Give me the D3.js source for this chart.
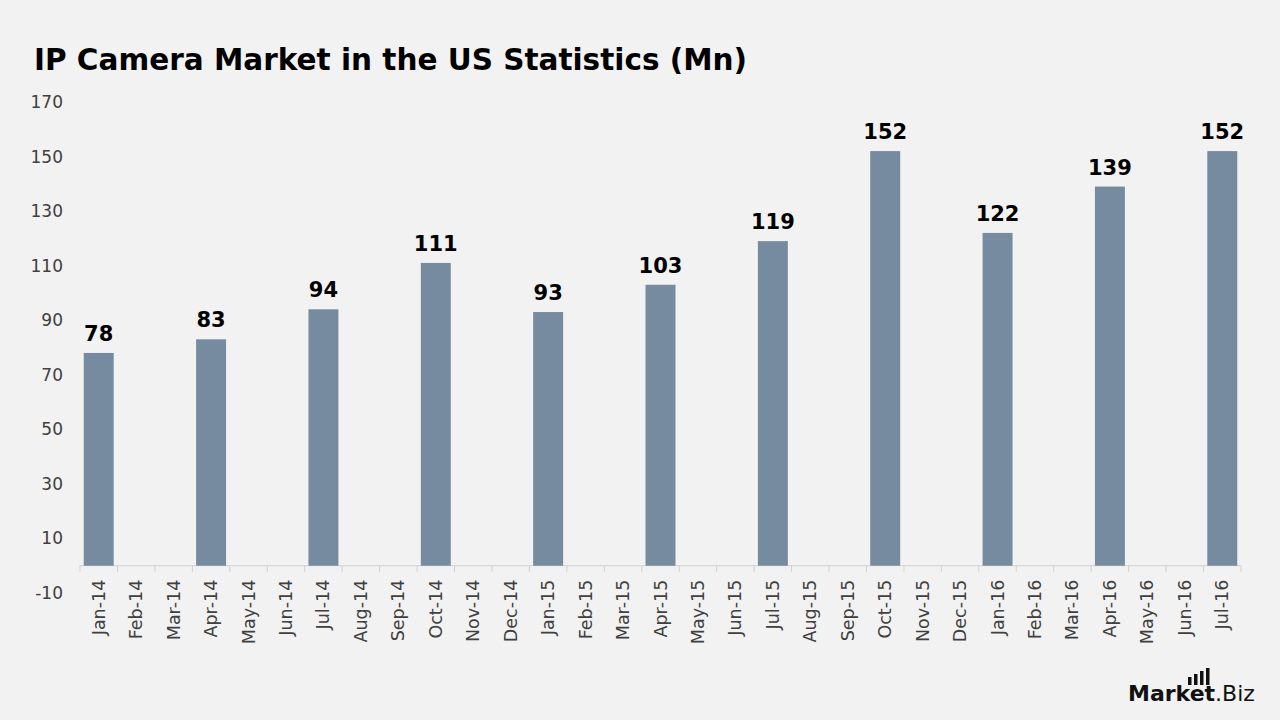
<!DOCTYPE html>
<html>
<head>
<meta charset="utf-8">
<script src="https://cdn.jsdelivr.net/npm/d3@7"></script>
<style>
  body { margin: 0; background: #f2f2f2; }
  svg { display: block; font-family: "DejaVu Sans", "Open Sans", sans-serif; }
</style>
</head>
<body>
<div id="chart"></div>
<script>
// months shown on the category axis
const months = ["Jan-14","Feb-14","Mar-14","Apr-14","May-14","Jun-14","Jul-14","Aug-14","Sep-14","Oct-14","Nov-14","Dec-14",
    "Jan-15","Feb-15","Mar-15","Apr-15","May-15","Jun-15","Jul-15","Aug-15","Sep-15","Oct-15","Nov-15","Dec-15",
    "Jan-16","Feb-16","Mar-16","Apr-16","May-16","Jun-16","Jul-16"];
// only quarterly months have a value
const values = [78,null,null,83,null,null,94,null,null,111,null,null,
    93,null,null,103,null,null,119,null,null,152,null,null,
    122,null,null,139,null,null,152];
const yTicks = [-10,10,30,50,70,90,110,130,150,170];

const data = months.map((m, i) => ({month: m, value: values[i]}));

const width = 1280, height = 720;

const svg = d3.select("#chart")
    .append("svg")
    .attr("width", width)
    .attr("height", height);

svg.append("rect")
    .attr("width", width)
    .attr("height", height)
    .attr("fill", "#f2f2f2");

// title
svg.append("text")
    .attr("x", 34)
    .attr("y", 70)
    .attr("font-size", 29.5)
    .attr("font-weight", "bold")
    .attr("fill", "#000")
    .text("IP Camera Market in the US Statistics (Mn)");

const xScale = d3.scaleBand()
    .domain(months)
    .range([80, 1241])
    .paddingInner(0.2)
    .paddingOuter(0.1);

const yScale = d3.scaleLinear()
    .domain([-10, 170])
    .range([593, 102]);

// y axis labels, no line
const yAxisG = svg.append("g")
    .attr("transform", "translate(63,0)")
    .call(d3.axisLeft(yScale).tickValues(yTicks).tickSize(0).tickPadding(0).tickFormat(d => String(d)));
yAxisG.select(".domain").remove();
yAxisG.selectAll("text")
    .attr("font-size", 17)
    .attr("fill", "#404040")
    .style("font-family", "\"DejaVu Sans\", sans-serif");

const y0 = yScale(0);
const step = xScale.step();

// x axis line and boundary ticks
const xAxisG = svg.append("g");
xAxisG.append("line")
    .attr("x1", xScale.range()[0])
    .attr("x2", xScale.range()[1])
    .attr("y1", y0)
    .attr("y2", y0)
    .attr("stroke", "#d0d0d0")
    .attr("stroke-width", 1);

const bounds = months.map(m => xScale(m) - step * 0.1).concat([xScale(months[months.length - 1]) + xScale.bandwidth() + step * 0.1]);
xAxisG.selectAll(".tick-mark")
    .data(bounds)
    .join("line")
    .attr("class", "tick-mark")
    .attr("x1", d => d)
    .attr("x2", d => d)
    .attr("y1", y0)
    .attr("y2", y0 + 6)
    .attr("stroke", "#d0d0d0");

xAxisG.selectAll(".xlabel")
    .data(months)
    .join("text")
    .attr("class", "xlabel")
    .attr("transform", d => `translate(${xScale(d) + xScale.bandwidth() / 2 + 6},${y0 + 14}) rotate(-90)`)
    .attr("text-anchor", "end")
    .attr("font-size", 17.5)
    .attr("fill", "#404040")
    .text(d => d);

// bars
const withValues = data.filter(d => d.value !== null);

svg.selectAll(".bar")
    .data(withValues)
    .join("rect")
    .attr("class", "bar")
    .attr("x", d => xScale(d.month))
    .attr("width", xScale.bandwidth())
    .attr("y", d => yScale(d.value))
    .attr("height", d => y0 - yScale(d.value))
    .attr("fill", "#778ba0");

svg.selectAll(".label")
    .data(withValues)
    .join("text")
    .attr("class", "label")
    .attr("x", d => xScale(d.month) + xScale.bandwidth() / 2)
    .attr("y", d => yScale(d.value) - 12)
    .attr("text-anchor", "middle")
    .attr("font-size", 21)
    .attr("font-weight", "bold")
    .attr("fill", "#000")
    .text(d => d.value);

// watermark
const wm = svg.append("g").attr("transform", "translate(1128,701)");
wm.append("text")
    .attr("font-size", 22)
    .attr("fill", "#111")
    .html('<tspan font-weight="bold">Market</tspan><tspan>.Biz</tspan>');
[0, 1, 2, 3].forEach(i => {
    wm.append("rect")
        .attr("x", 60 + i * 6)
        .attr("y", -24 - i * 3)
        .attr("width", 3.5)
        .attr("height", 8 + i * 3)
        .attr("fill", "#111");
});
</script>
</body>
</html>
